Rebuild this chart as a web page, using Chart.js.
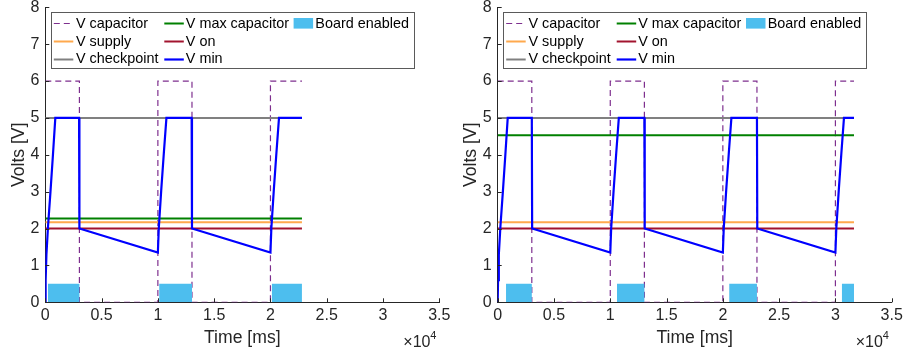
<!DOCTYPE html>
<html>
<head>
<meta charset="utf-8">
<script src="https://cdn.jsdelivr.net/npm/chart.js@4.4.1/dist/chart.umd.min.js"></script>
<style>
    html, body { margin: 0; padding: 0; background: #fff; }
    #wrap { position: relative; width: 910px; height: 356px; }
    canvas { position: absolute; top: 0; }
    #leftChart { left: 0; }
    #rightChart { left: 455px; }
</style>
</head>
<body>
<div id="wrap">
    <canvas id="leftChart" width="455" height="356"></canvas>
    <canvas id="rightChart" width="455" height="356"></canvas>
</div>
<script>
// Дані (час у мс, напруга у В)
const xTickValues = [0, 5000, 10000, 15000, 20000, 25000, 30000, 35000];
const levelNames = ['V max capacitor', 'V supply', 'V on', 'V checkpoint'];

// Ліва діаграма
const leftEnd = 22800;
const leftLevels = [2.27, 2.17, 2.0, 5.0];
const leftCapT = [0, 3030, 3030, 10000, 10000, 13030, 13030, 20000, 20000, 22800];
const leftCapV = [6, 6, 0, 0, 6, 6, 0, 0, 6, 6];
const leftMinT = [0, 30, 100, 240, 460, 680, 890, 3000, 3030, 10000, 10080, 10300, 10530, 10760, 13000, 13030,
                  20000, 20080, 20300, 20530, 20760, 22800];
const leftMinV = [0, 0.6, 1.3, 2.05, 3.0, 4.0, 5, 5, 2, 1.35, 2.0, 3.05, 4.05, 5, 5, 2,
                  1.35, 2.0, 3.05, 4.05, 5, 5];
const leftBoardStart = [240, 10120, 20130];
const leftBoardEnd = [3030, 13030, 22800];

// Права діаграма
const rightEnd = 31650;
const rightLevels = [4.53, 2.17, 2.0, 5.0];
const rightCapT = [0, 3030, 3030, 10000, 10000, 13030, 13030, 20000, 20000, 23030, 23030, 30000, 30000, 31650];
const rightCapV = [6, 6, 0, 0, 6, 6, 0, 0, 6, 6, 0, 0, 6, 6];
const rightMinT = [0, 30, 100, 240, 460, 680, 890, 3030, 3060, 10000, 10080, 10300, 10530, 10760, 13030, 13060,
                   20000, 20080, 20300, 20530, 20760, 23030, 23060, 30000, 30080, 30300, 30530, 30760, 31650];
const rightMinV = [0, 0.6, 1.3, 2.05, 3.0, 4.0, 5, 5, 2, 1.35, 2.0, 3.05, 4.05, 5, 5, 2,
                   1.35, 2.0, 3.05, 4.05, 5, 5, 2, 1.35, 2.0, 3.05, 4.05, 5, 5];
const rightBoardStart = [740, 10600, 20570, 30580];
const rightBoardEnd = [3030, 13030, 23030, 31650];

const FONT = "'Liberation Sans', Arial, Helvetica, sans-serif";
const AXIS_COLOR = '#262626';
const COLORS = {
    'V capacitor': '#7E2F8E',
    'V max capacitor': '#008000',
    'V supply': '#FFA94D',
    'V on': '#A2142F',
    'V checkpoint': '#808080',
    'V min': '#0000FF',
    'Board enabled': '#4DBEEE'
};

// Легенда у три колонки (як у MATLAB)
const legendCols = [
    ['V capacitor', 'V supply', 'V checkpoint'],
    ['V max capacitor', 'V on', 'V min'],
    ['Board enabled']
];

function zipPoints(ts, vs) {
    return ts.map((t, i) => ({ x: t, y: vs[i] }));
}

function boardPoints(starts, ends) {
    const pts = [];
    starts.forEach((s, i) => {
        pts.push({ x: s, y: 0 }, { x: s, y: 0.5 }, { x: ends[i], y: 0.5 }, { x: ends[i], y: 0 });
    });
    return pts;
}

function buildDatasets(capT, capV, minT, minV, bStart, bEnd, levels, tEnd) {
    const lvl = name => {
        const v = levels[levelNames.indexOf(name)];
        return {
            label: name,
            data: [{ x: 0, y: v }, { x: tEnd, y: v }],
            borderColor: COLORS[name],
            borderWidth: 2
        };
    };
    // index 0 малюється зверху
    return [
        {
            label: 'Board enabled',
            data: boardPoints(bStart, bEnd),
            borderColor: 'rgba(0,0,0,0)',
            borderWidth: 0,
            backgroundColor: COLORS['Board enabled'],
            fill: 'origin'
        },
        {
            label: 'V min',
            data: zipPoints(minT, minV),
            borderColor: COLORS['V min'],
            borderWidth: 2.2
        },
        lvl('V on'),
        lvl('V max capacitor'),
        lvl('V checkpoint'),
        lvl('V supply'),
        {
            label: 'V capacitor',
            data: zipPoints(capT, capV),
            borderColor: COLORS['V capacitor'],
            borderWidth: 1.2,
            borderDash: [6, 4]
        }
    ];
}

// Внутрішні засічки, множник ×10^4 та легенда
const matlabDecor = {
    id: 'matlabDecor',
    afterDatasetsDraw(chart) {
        const { ctx, chartArea: a, scales: { x, y } } = chart;
        ctx.save();
        ctx.strokeStyle = AXIS_COLOR;
        ctx.lineWidth = 1;
        ctx.setLineDash([]);
        ctx.beginPath();
        y.ticks.forEach(t => {
            const py = Math.round(y.getPixelForValue(t.value)) + 0.5;
            ctx.moveTo(a.left, py);
            ctx.lineTo(a.left + 4, py);
        });
        x.ticks.forEach(t => {
            const px = Math.round(x.getPixelForValue(t.value)) + 0.5;
            ctx.moveTo(px, a.bottom);
            ctx.lineTo(px, a.bottom - 4);
        });
        ctx.stroke();

        // ×10^4
        ctx.fillStyle = AXIS_COLOR;
        ctx.textBaseline = 'alphabetic';
        ctx.textAlign = 'left';
        ctx.font = `16px ${FONT}`;
        ctx.fillText('\u00d710', a.right - 36, 347);
        ctx.font = `11px ${FONT}`;
        ctx.fillText('4', a.right - 9, 339);

        // легенда
        const boxL = a.left + 5.5, boxT = a.top + 5, boxR = a.left + 368, boxB = a.top + 61;
        ctx.fillStyle = '#fff';
        ctx.fillRect(boxL, boxT, boxR - boxL, boxB - boxT);
        ctx.strokeStyle = '#5a5a5a';
        ctx.lineWidth = 1;
        ctx.strokeRect(Math.round(boxL) + 0.5, Math.round(boxT) + 0.5, Math.round(boxR - boxL), Math.round(boxB - boxT));

        const colX = [8.5, 119, 248.3];
        const textX = [30.7, 140.5, 270];
        const rowY = [16, 34, 51.4];
        ctx.font = `14.4px ${FONT}`;
        ctx.textBaseline = 'middle';
        legendCols.forEach((col, ci) => {
            col.forEach((name, ri) => {
                const ds = chart.data.datasets.find(d => d.label === name);
                const sx = a.left + colX[ci];
                const sy = a.top + rowY[ri];
                if (name === 'Board enabled') {
                    ctx.fillStyle = ds.backgroundColor;
                    ctx.fillRect(sx, sy - 5.3, 19.5, 10.6);
                } else {
                    ctx.strokeStyle = ds.borderColor;
                    ctx.lineWidth = ds.borderWidth;
                    ctx.setLineDash(ds.borderDash || []);
                    ctx.beginPath();
                    ctx.moveTo(sx, Math.round(sy) + 0.5);
                    ctx.lineTo(sx + 19.5, Math.round(sy) + 0.5);
                    ctx.stroke();
                    ctx.setLineDash([]);
                }
                ctx.fillStyle = '#000';
                ctx.fillText(name, a.left + textX[ci], sy + 0.5);
            });
        });
        ctx.restore();
    }
};

function makeChart(id, datasets, yWidth, padRight, yTitlePad) {
    return new Chart(document.getElementById(id), {
        type: 'line',
        data: { datasets },
        options: {
            responsive: false,
            animation: false,
            devicePixelRatio: 1,
            layout: { padding: { left: 0, right: padRight, top: 7.3, bottom: 0 } },
            elements: {
                point: { radius: 0, hoverRadius: 0 },
                line: { tension: 0, borderCapStyle: 'butt', borderJoinStyle: 'miter' }
            },
            plugins: { legend: { display: false }, tooltip: { enabled: false } },
            events: [],
            scales: {
                x: {
                    type: 'linear',
                    min: 0, max: 35000,
                    afterBuildTicks: s => { s.ticks = xTickValues.map(v => ({ value: v })); },
                    ticks: {
                        autoSkip: false, maxRotation: 0, padding: 4,
                        color: AXIS_COLOR, font: { family: FONT, size: 16 },
                        callback: v => String(v / 10000)
                    },
                    grid: { display: false, drawTicks: false },
                    border: { display: true, color: AXIS_COLOR, width: 1 },
                    title: {
                        display: true, text: 'Time [ms]', color: AXIS_COLOR,
                        font: { family: FONT, size: 17.6 }, padding: { top: 0, bottom: 7 }
                    },
                    afterFit: s => { s.height = 53.7; s.paddingLeft = 0; s.paddingRight = 0; }
                },
                y: {
                    min: 0, max: 8,
                    ticks: { stepSize: 1, padding: 6, color: AXIS_COLOR, font: { family: FONT, size: 16 } },
                    grid: { display: false, drawTicks: false },
                    border: { display: true, color: AXIS_COLOR, width: 1 },
                    title: {
                        display: true, text: 'Volts [V]', color: AXIS_COLOR,
                        font: { family: FONT, size: 17.6 }, padding: { top: yTitlePad, bottom: 0 }
                    },
                    afterFit: s => { s.width = yWidth; s.paddingTop = 0; s.paddingBottom = 0; }
                }
            }
        },
        plugins: [matlabDecor]
    });
}

makeChart('leftChart',
    buildDatasets(leftCapT, leftCapV, leftMinT, leftMinV, leftBoardStart, leftBoardEnd, leftLevels, leftEnd),
    45.3, 15.7, 8.5);
makeChart('rightChart',
    buildDatasets(rightCapT, rightCapV, rightMinT, rightMinV, rightBoardStart, rightBoardEnd, rightLevels, rightEnd),
    42.7, 18.3, 5.3);
</script>
</body>
</html>
